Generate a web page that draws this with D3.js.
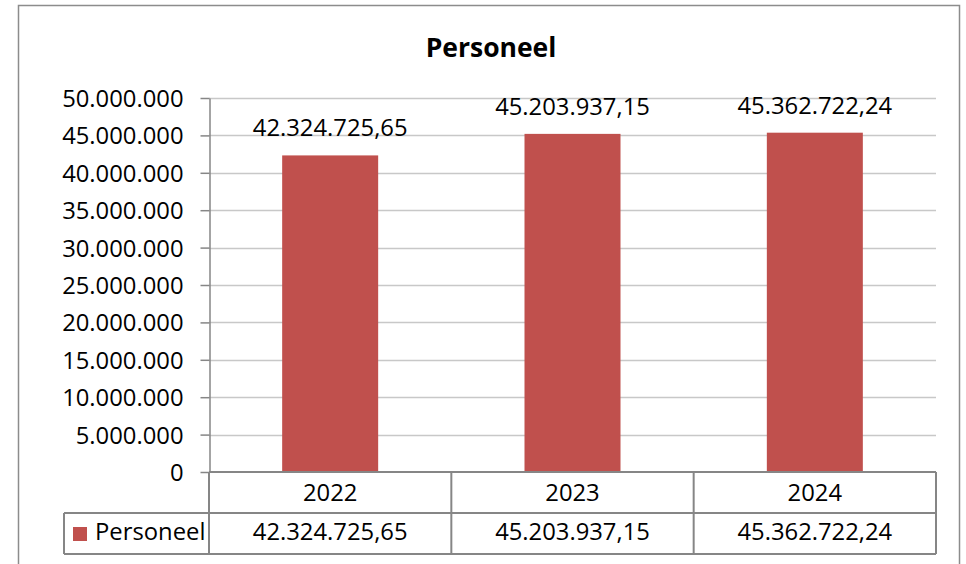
<!DOCTYPE html>
<html>
<head>
<meta charset="utf-8">
<script src="https://cdn.jsdelivr.net/npm/d3@7"></script>
<style>
  html, body { margin: 0; padding: 0; background: #fff; }
  svg { display: block; }
  text { font-family: "Open Sans", "Noto Sans", sans-serif; fill: #000; }
</style>
</head>
<body>
<svg id="chart" width="966" height="564"></svg>
<script>
const title = "Personeel";
const seriesName = "Personeel";
const categories = ["2022", "2023", "2024"];
const values = [42324725.65, 45203937.15, 45362722.24];
const valueLabels = ["42.324.725,65", "45.203.937,15", "45.362.722,24"];
const yTicks = [0, 5000000, 10000000, 15000000, 20000000, 25000000, 30000000, 35000000, 40000000, 45000000, 50000000];

const svg = d3.select("#chart");
const W = 966, H = 564;
const plot = { left: 209, right: 936, top: 98, bottom: 472 };
const rowH = 41;
const fontSize = 23.8;

// outer border
svg.append("rect").attr("x", 18.5).attr("y", 5.5).attr("width", 941).attr("height", 600)
  .attr("fill", "#fff").attr("stroke", "#8c8c8c").attr("stroke-width", 1.5);

const x = d3.scaleBand().domain(categories).range([plot.left, plot.right]).paddingInner(0).paddingOuter(0);
const y = d3.scaleLinear().domain([0, 50000000]).range([plot.bottom, plot.top]);
const fmt = v => d3.format(",")(v).replace(/,/g, ".");

// gridlines
svg.append("g").selectAll("line").data(yTicks.filter(d => d > 0)).join("line")
  .attr("x1", plot.left).attr("x2", plot.right)
  .attr("y1", d => Math.round(y(d)) + 0.5).attr("y2", d => Math.round(y(d)) + 0.5)
  .attr("stroke", "#c8c8c8").attr("stroke-width", 1.5);

// bars
const bw = 96;
svg.append("g").selectAll("rect").data(values).join("rect")
  .attr("x", (d, i) => x(categories[i]) + x.bandwidth() / 2 - bw / 2)
  .attr("width", bw)
  .attr("y", d => y(d))
  .attr("height", d => plot.bottom - y(d))
  .attr("fill", "#c0504d");

// y axis
const yAxis = d3.axisLeft(y).tickValues(yTicks).tickFormat(fmt).tickSize(9).tickSizeOuter(0);
const ga = svg.append("g").attr("transform", `translate(${plot.left + 0.5},0)`).call(yAxis);
ga.select(".domain").attr("stroke", "#868686").attr("stroke-width", 1.5);
ga.selectAll(".tick line").attr("stroke", "#868686").attr("stroke-width", 1.5);
ga.selectAll(".tick text").attr("font-size", fontSize).attr("font-family", "Open Sans")
  .attr("x", -26).attr("dy", "0.36em").attr("fill", "#000");

// value labels
svg.append("g").selectAll("text").data(values).join("text")
  .attr("x", (d, i) => x(categories[i]) + x.bandwidth() / 2)
  .attr("y", d => y(d) - 19)
  .attr("text-anchor", "middle").attr("font-size", fontSize)
  .text((d, i) => valueLabels[i]);

// data table
const tbl = svg.append("g");
const lineColor = "#868686";
const legendLeft = 64;
tbl.append("line").attr("x1", plot.left).attr("x2", plot.right).attr("y1", plot.bottom).attr("y2", plot.bottom)
  .attr("stroke", lineColor).attr("stroke-width", 2);
tbl.append("line").attr("x1", legendLeft).attr("x2", plot.right).attr("y1", plot.bottom + rowH).attr("y2", plot.bottom + rowH)
  .attr("stroke", lineColor).attr("stroke-width", 2);
tbl.append("line").attr("x1", legendLeft).attr("x2", plot.right).attr("y1", plot.bottom + 2 * rowH).attr("y2", plot.bottom + 2 * rowH)
  .attr("stroke", lineColor).attr("stroke-width", 2);
const vx = categories.map(c => x(c)).concat([plot.right]);
tbl.selectAll("line.v").data(vx).join("line").attr("class", "v")
  .attr("x1", d => d).attr("x2", d => d).attr("y1", plot.bottom).attr("y2", plot.bottom + 2 * rowH)
  .attr("stroke", lineColor).attr("stroke-width", 2);
tbl.append("line").attr("x1", legendLeft).attr("x2", legendLeft).attr("y1", plot.bottom + rowH).attr("y2", plot.bottom + 2 * rowH)
  .attr("stroke", lineColor).attr("stroke-width", 2);

tbl.selectAll("text.cat").data(categories).join("text").attr("class", "cat")
  .attr("x", d => x(d) + x.bandwidth() / 2).attr("y", plot.bottom + 29)
  .attr("text-anchor", "middle").attr("font-size", fontSize).text(d => d);
tbl.selectAll("text.val").data(values).join("text").attr("class", "val")
  .attr("x", (d, i) => x(categories[i]) + x.bandwidth() / 2).attr("y", plot.bottom + rowH + 27)
  .attr("text-anchor", "middle").attr("font-size", fontSize).text((d, i) => valueLabels[i]);

// legend key
tbl.append("rect").attr("x", 73).attr("y", 527).attr("width", 14).attr("height", 14).attr("fill", "#c0504d");
tbl.append("text").attr("x", 95).attr("y", plot.bottom + rowH + 27).attr("font-size", fontSize).text(seriesName);

// title
svg.append("text").attr("x", 491).attr("y", 57).attr("text-anchor", "middle")
  .attr("font-size", 26.5).attr("font-weight", "bold").text(title);
</script>
</body>
</html>
